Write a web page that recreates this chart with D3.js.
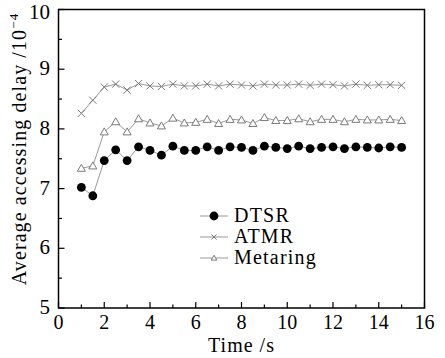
<!DOCTYPE html>
<html><head><meta charset="utf-8">
<script src="https://cdn.jsdelivr.net/npm/d3@7/dist/d3.min.js"></script>
<style>body{margin:0;background:#fff}svg{display:block}text{font-family:"Liberation Serif","DejaVu Serif",serif}</style>
</head><body>
<script>
const times = [1,1.5,2,2.5,3,3.5,4,4.5,5,5.5,6,6.5,7,7.5,8,8.5,9,9.5,10,10.5,11,11.5,12,12.5,13,13.5,14,14.5,15];
const dtsr = [7.02,6.88,7.47,7.65,7.47,7.70,7.64,7.56,7.71,7.64,7.64,7.70,7.64,7.70,7.69,7.64,7.71,7.69,7.67,7.71,7.67,7.69,7.70,7.67,7.70,7.69,7.68,7.70,7.69];
const atmr = [8.26,8.48,8.70,8.75,8.65,8.76,8.72,8.71,8.75,8.72,8.72,8.75,8.72,8.75,8.735,8.72,8.75,8.735,8.735,8.75,8.73,8.75,8.74,8.72,8.75,8.73,8.74,8.74,8.73];
const metaring = [7.34,7.38,7.95,8.12,7.95,8.17,8.10,8.05,8.18,8.10,8.11,8.16,8.09,8.16,8.15,8.09,8.19,8.14,8.14,8.17,8.12,8.16,8.16,8.12,8.16,8.15,8.15,8.16,8.14];
const xTicks = [0,2,4,6,8,10,12,14,16];
const yTicks = [5,6,7,8,9,10];
const seriesNames = ["DTSR","ATMR","Metaring"];

const W=445,H=358;
const L=58.5,R=424.5,T=9.5,B=308;
const svg=d3.select("body").append("svg").attr("width",W).attr("height",H);
const x=d3.scaleLinear().domain([0,16]).range([L,R]);
const y=d3.scaleLinear().domain([5,10]).range([B,T]);

const g=svg.append("g");
d3.range(0,16.01,1).forEach(v=>{
  const major = v%2===0;
  g.append("line").attr("x1",x(v)).attr("x2",x(v)).attr("y1",B).attr("y2",B-(major?6:3.5)).attr("stroke","#000").attr("stroke-width",1.2);
});
d3.range(5,10.01,0.5).forEach(v=>{
  const major = v%1===0;
  g.append("line").attr("x1",L).attr("x2",L+(major?6:3.5)).attr("y1",y(v)).attr("y2",y(v)).attr("stroke","#000").attr("stroke-width",1.2);
});
svg.append("rect").attr("x",L).attr("y",T).attr("width",R-L).attr("height",B-T).attr("fill","none").attr("stroke","#000").attr("stroke-width",1.5);

xTicks.forEach(v=>svg.append("text").attr("x",x(v)).attr("y",329).attr("text-anchor","middle").style("font-size","20px").text(v));
yTicks.forEach(v=>svg.append("text").attr("x",50).attr("y",y(v)+(v===10?9:6)).attr("text-anchor","end").style("font-size","21px").text(v));

svg.append("text").attr("x",x(8)).attr("y",352).attr("text-anchor","middle").style("font-size","20px").style("letter-spacing","1px").text("Time /s");
const yl=svg.append("text").attr("transform","translate(26,149) rotate(-90)").attr("text-anchor","middle").style("font-size","20px").style("letter-spacing","1.1px");
yl.append("tspan").text("Average accessing delay /10");
yl.append("tspan").attr("dy",-8).style("font-size","13px").text("−4");

const line=d3.line().x(d=>x(d[0])).y(d=>y(d[1]));
const grey="#7a7a7a";
function drawSeries(vals, type){
  const pts=times.map((t,i)=>[t,vals[i]]);
  svg.append("path").attr("d",line(pts)).attr("fill","none").attr("stroke","#999").attr("stroke-width",1);
  pts.forEach(p=>marker(x(p[0]),y(p[1]),type,1));
}
function marker(cx,cy,type,s){
  if(type==="circle") svg.append("circle").attr("cx",cx).attr("cy",cy).attr("r",4.4*s).attr("fill","#000");
  else if(type==="x"){
    const r=3.6*s;
    svg.append("path").attr("d",`M${cx-r},${cy-r}L${cx+r},${cy+r}M${cx-r},${cy+r}L${cx+r},${cy-r}`).attr("stroke",grey).attr("stroke-width",1).attr("fill","none");
  } else {
    const r=4*s;
    svg.append("path").attr("d",`M${cx},${cy-r}L${cx+r},${cy+r*0.75}L${cx-r},${cy+r*0.75}Z`).attr("stroke",grey).attr("stroke-width",1).attr("fill","#fff");
  }
}
drawSeries(atmr,"x");
drawSeries(metaring,"tri");
drawSeries(dtsr,"circle");

const types=["circle","x","tri"];
const ly=[216,237,258];
seriesNames.forEach((n,i)=>{
  svg.append("line").attr("x1",200).attr("x2",228).attr("y1",ly[i]).attr("y2",ly[i]).attr("stroke","#999").attr("stroke-width",1);
  marker(214,ly[i],types[i],i===0?1:0.7);
  svg.append("text").attr("x",234).attr("y",ly[i]+6).style("font-size","20px").style("letter-spacing","1.2px").text(n);
});
</script>
</body></html>
